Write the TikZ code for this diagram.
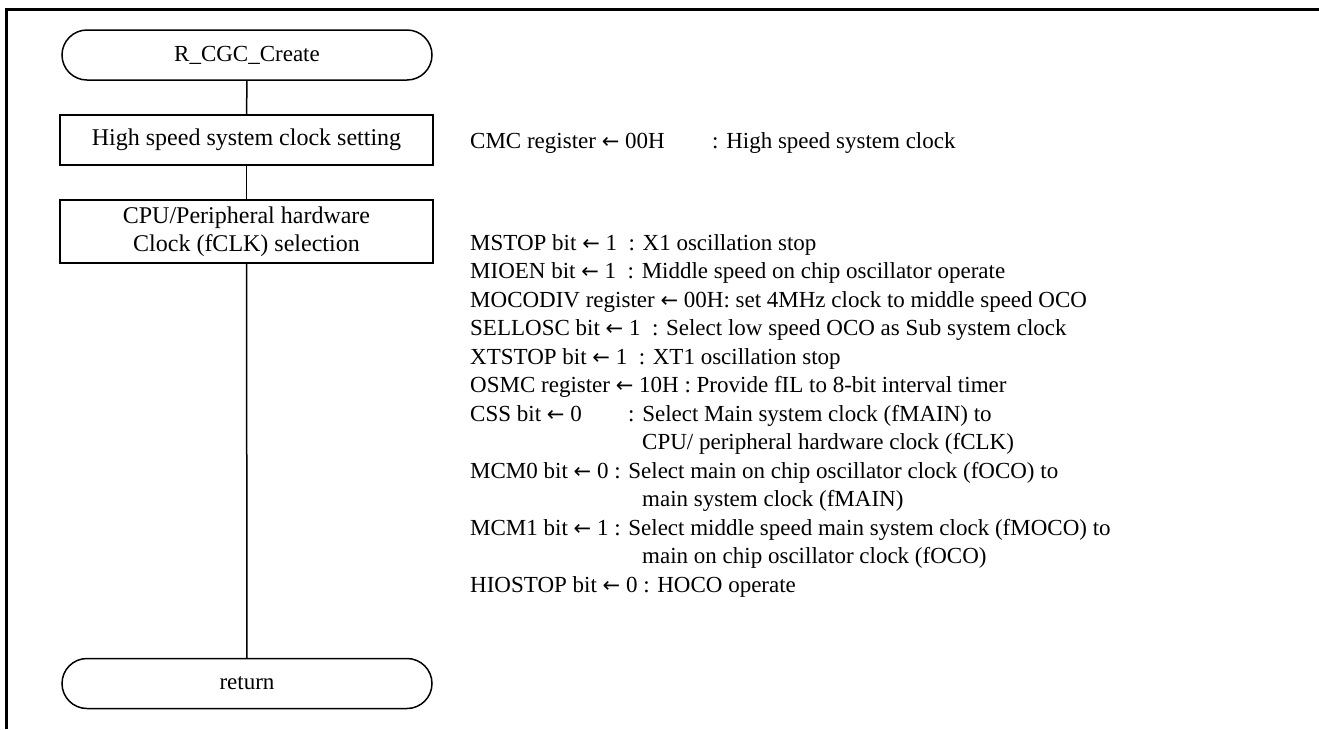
\documentclass[tikz,border=0pt]{standalone}
\usepackage{fontspec}
\setmainfont{Liberation Serif}
\newfontfamily\arrowfont{DejaVu Sans}
\newcommand{\la}{{\arrowfont\fontsize{21}{21}\selectfont ←}}
\usetikzlibrary{positioning}
\begin{document}
\begin{tikzpicture}[x=1pt,y=-1pt,
  term/.style={draw,line width=1.5pt,rounded corners=25pt,minimum width=370pt,minimum height=50pt,inner sep=0pt,font=\fontsize{23}{27}\selectfont},
  proc/.style={draw,line width=1.5pt,minimum width=373pt,inner sep=0pt,align=center,font=\fontsize{24}{28}\selectfont},
  txt/.style={anchor=base west,inner sep=0pt,font=\fontsize{23}{28}\selectfont},
  flow/.style={line width=1.5pt}]
\useasboundingbox (0,0) rectangle (1319,729);
\draw[line width=3pt] (6,729) -- (6,9) -- (1319,9);
\node[term] (start) at (247,55) {R\_CGC\_Create};
\node[proc,minimum height=50pt] (b1) at (246.5,140) {High speed system clock setting};
\node[proc,minimum height=63pt] (b2) at (246.5,231.5) {CPU/Peripheral hardware\\Clock (fCLK) selection};
\node[term] (ret) at (247,683.5) {return};
\draw[flow] (start) -- (b1);
\draw[flow] (b1) -- (b2);
\draw[flow] (b2) -- (ret);
\node[txt] (t0) at (470,148) {CMC register \la{} 00H};
\node[txt] (t0b) at (712,148) {: High speed system clock};
\node[txt] (t1) at (470,250) {MSTOP bit \la{} 1\ \ : X1 oscillation stop};
\node[txt] (t2) at (470,278.5) {MIOEN bit \la{} 1\ \ : Middle speed on chip oscillator operate};
\node[txt] (t3) at (470,307) {MOCODIV register \la{} 00H: set 4MHz clock to middle speed OCO};
\node[txt] (t4) at (470,335.5) {SELLOSC bit \la{} 1\ \ : Select low speed OCO as Sub system clock};
\node[txt] (t5) at (470,364) {XTSTOP bit \la{} 1\ \ : XT1 oscillation stop};
\node[txt] (t6) at (470,392.5) {OSMC register \la{} 10H : Provide fIL to 8-bit interval timer};
\node[txt] (t7) at (470,421) {CSS bit \la{} 0};
\node[txt] (t7b) at (628,421) {: Select Main system clock (fMAIN) to};
\node[txt] (t8) at (642,449.5) {CPU/ peripheral hardware clock (fCLK)};
\node[txt] (t9) at (470,478) {MCM0 bit \la{} 0 : Select main on chip oscillator clock (fOCO) to};
\node[txt] (t10) at (642,506.5) {main system clock (fMAIN)};
\node[txt] (t11) at (470,535) {MCM1 bit \la{} 1 : Select middle speed main system clock (fMOCO) to};
\node[txt] (t12) at (642,563.5) {main on chip oscillator clock (fOCO)};
\node[txt] (t13) at (470,592) {HIOSTOP bit \la{} 0 : HOCO operate};
\end{tikzpicture}
\end{document}
